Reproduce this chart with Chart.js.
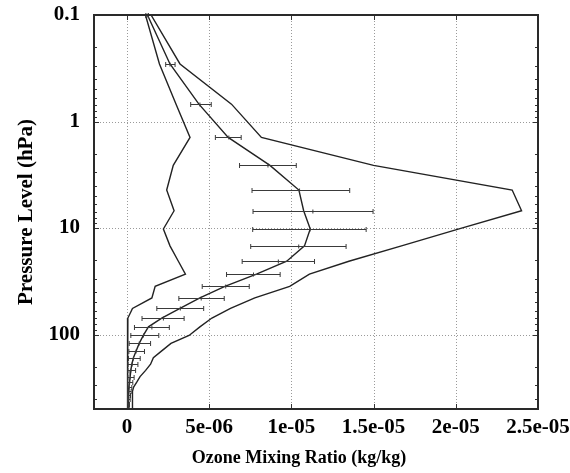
<!DOCTYPE html>
<html>
<head>
<meta charset="utf-8">
<script src="https://cdn.jsdelivr.net/npm/chart.js@4.4.0/dist/chart.umd.min.js"></script>
<style>
html, body { margin: 0; padding: 0; background: #fff; }
</style>
</head>
<body>
<canvas id="chart" width="570" height="473"></canvas>
<script>
// pressure levels (hPa), top of the profile first
var pressureLevels = [0.1, 0.288, 0.687, 1.41, 2.58, 4.40, 6.88, 10.2, 14.7, 20.5, 27.1, 35.3, 45.3, 56.8, 70.0, 84.7,
    102, 121, 143, 165, 190, 217, 248, 280, 311, 342, 373, 407, 444, 476, 500];

// ozone mixing ratio (kg/kg) - three profiles
var minOzone = [1.13e-6, 1.98e-6, 2.99e-6, 3.84e-6, 2.82e-6, 2.42e-6, 2.87e-6, 2.22e-6, 2.62e-6, 3.13e-6, 3.56e-6,
    1.72e-6, 1.52e-6, 0.34e-6, 0.06e-6, 0.04e-6, 0.04e-6, 0.04e-6, 0.04e-6, 0.04e-6, 0.04e-6, 0.04e-6, 0.04e-6,
    0.04e-6, 0.04e-6, 0.04e-6, 0.04e-6, 0.04e-6, 0.04e-6, 0.04e-6, 0.04e-6];
var meanOzone = [1.25e-6, 2.62e-6, 4.38e-6, 6.16e-6, 8.70e-6, 10.46e-6, 10.75e-6, 11.15e-6, 10.80e-6, 9.72e-6, 7.88e-6,
    5.96e-6, 4.44e-6, 3.23e-6, 2.12e-6, 1.31e-6, 1.00e-6, 0.75e-6, 0.56e-6, 0.40e-6, 0.30e-6, 0.24e-6, 0.20e-6,
    0.16e-6, 0.12e-6, 0.10e-6, 0.09e-6, 0.08e-6, 0.08e-6, 0.07e-6, 0.07e-6];
var maxOzone = [1.47e-6, 3.23e-6, 6.36e-6, 8.18e-6, 15.0e-6, 23.43e-6, 24.0e-6, 20.2e-6, 16.7e-6, 13.5e-6, 11.1e-6,
    9.9e-6, 7.78e-6, 6.3e-6, 5.17e-6, 4.44e-6, 3.78e-6, 2.68e-6, 2.10e-6, 1.61e-6, 1.44e-6, 1.14e-6, 0.80e-6,
    0.60e-6, 0.41e-6, 0.34e-6, 0.34e-6, 0.34e-6, 0.34e-6, 0.34e-6, 0.34e-6];

// observations with x error bars (same levels, first 30)
var obsMean = [1.23e-6, 2.62e-6, 4.44e-6, 6.20e-6, 8.58e-6, 10.50e-6, 11.31e-6, 11.14e-6, 10.45e-6, 9.21e-6, 7.70e-6,
    6.01e-6, 4.52e-6, 3.25e-6, 2.22e-6, 1.52e-6, 1.01e-6, 0.75e-6, 0.56e-6, 0.40e-6, 0.32e-6, 0.24e-6, 0.20e-6,
    0.17e-6, 0.14e-6, 0.12e-6, 0.11e-6, 0.10e-6, 0.09e-6, 0.085e-6];
var obsLow = [1.15e-6, 2.36e-6, 3.88e-6, 5.38e-6, 6.85e-6, 7.61e-6, 7.67e-6, 7.65e-6, 7.53e-6, 7.01e-6, 6.06e-6,
    4.58e-6, 3.16e-6, 1.82e-6, 0.92e-6, 0.46e-6, 0.24e-6, 0.14e-6, 0.12e-6, 0.10e-6, 0.07e-6, 0.06e-6, 0.06e-6,
    0.05e-6, 0.05e-6, 0.05e-6, 0.04e-6, 0.04e-6, 0.04e-6, 0.04e-6];
var obsHigh = [1.31e-6, 2.93e-6, 5.13e-6, 6.95e-6, 10.30e-6, 13.55e-6, 14.97e-6, 14.55e-6, 13.33e-6, 11.41e-6, 9.32e-6,
    7.44e-6, 5.92e-6, 4.67e-6, 3.48e-6, 2.58e-6, 1.94e-6, 1.44e-6, 1.07e-6, 0.81e-6, 0.67e-6, 0.53e-6, 0.44e-6,
    0.36e-6, 0.30e-6, 0.26e-6, 0.22e-6, 0.20e-6, 0.16e-6, 0.14e-6];

// axis ticks
var xTickValues = [0, 5e-6, 1e-5, 1.5e-5, 2e-5, 2.5e-5];
var xTickLabels = ['0', '5e-06', '1e-05', '1.5e-05', '2e-05', '2.5e-05'];
var yTickValues = [0.1, 1, 10, 100];
var yTickLabels = ['0.1', '1', '10', '100'];

var FONT = '"Liberation Serif", "Times New Roman", serif';

function profile(xs) {
    return xs.map(function (v, i) { return {x: v, y: pressureLevels[i]}; });
}

function lineSet(xs) {
    return {
        data: profile(xs),
        showLine: true,
        borderColor: '#222',
        borderWidth: 1.4,
        pointRadius: 0,
        tension: 0,
        fill: false
    };
}

var gnuFrame = {
    id: 'gnuFrame',
    beforeDatasetsDraw: function (chart) {
        var ctx = chart.ctx, a = chart.chartArea, x = chart.scales.x, y = chart.scales.y;
        ctx.save();
        ctx.strokeStyle = '#9a9a9a';
        ctx.lineWidth = 1;
        ctx.setLineDash([1, 2]);
        ctx.beginPath();
        xTickValues.forEach(function (v) {
            var px = Math.round(x.getPixelForValue(v)) + 0.5;
            if (px > a.right - 2) return;
            ctx.moveTo(px, a.top); ctx.lineTo(px, a.bottom);
        });
        yTickValues.forEach(function (v) {
            var py = Math.round(y.getPixelForValue(v)) + 0.5;
            if (py < a.top + 2) return;
            ctx.moveTo(a.left, py); ctx.lineTo(a.right, py);
        });
        ctx.stroke();
        ctx.restore();
    },
    afterDatasetsDraw: function (chart) {
        var ctx = chart.ctx, a = chart.chartArea, x = chart.scales.x, y = chart.scales.y;
        ctx.save();
        // error bars
        ctx.strokeStyle = '#3a3a3a';
        ctx.lineWidth = 1;
        ctx.beginPath();
        for (var i = 0; i < obsMean.length; i++) {
            var py = Math.round(y.getPixelForValue(pressureLevels[i])) + 0.5;
            var lo = x.getPixelForValue(obsLow[i]);
            var hi = x.getPixelForValue(obsHigh[i]);
            var c = x.getPixelForValue(obsMean[i]);
            ctx.moveTo(lo, py); ctx.lineTo(hi, py);
            ctx.moveTo(lo, py - 2.5); ctx.lineTo(lo, py + 2.5);
            ctx.moveTo(hi, py - 2.5); ctx.lineTo(hi, py + 2.5);
            ctx.moveTo(c, py - 2); ctx.lineTo(c, py + 2);
        }
        ctx.stroke();

        // inward tick marks
        ctx.strokeStyle = '#333';
        ctx.lineWidth = 1;
        ctx.beginPath();
        xTickValues.forEach(function (v) {
            var px = Math.round(x.getPixelForValue(v)) + 0.5;
            ctx.moveTo(px, a.bottom); ctx.lineTo(px, a.bottom - 5);
            ctx.moveTo(px, a.top); ctx.lineTo(px, a.top + 5);
        });
        for (var d = 0.1; d < 1000; d *= 10) {
            for (var k = 1; k < 10; k++) {
                var p = k * d;
                if (p > y.max + 1e-9) break;
                var yy = Math.round(y.getPixelForValue(p)) + 0.5;
                var len = k === 1 ? 5 : 3;
                ctx.moveTo(a.left, yy); ctx.lineTo(a.left + len, yy);
                ctx.moveTo(a.right, yy); ctx.lineTo(a.right - len, yy);
            }
        }
        ctx.stroke();

        // border
        ctx.strokeStyle = '#2a2a2a';
        ctx.lineWidth = 2;
        ctx.strokeRect(a.left, a.top, a.right - a.left, a.bottom - a.top);

        // axis titles
        ctx.fillStyle = '#000';
        ctx.font = 'bold 18px ' + FONT;
        ctx.textAlign = 'center';
        ctx.textBaseline = 'alphabetic';
        ctx.fillText('Ozone Mixing Ratio (kg/kg)', 299, 463);
        ctx.font = 'bold 21px ' + FONT;
        ctx.translate(32, (a.top + a.bottom) / 2);
        ctx.rotate(-Math.PI / 2);
        ctx.fillText('Pressure Level (hPa)', 0, 0);
        ctx.restore();
    }
};

new Chart(document.getElementById('chart').getContext('2d'), {
    type: 'scatter',
    data: {
        datasets: [lineSet(minOzone), lineSet(meanOzone), lineSet(maxOzone)]
    },
    options: {
        responsive: false,
        animation: false,
        layout: {padding: {top: 15, right: 32, left: 0, bottom: 0}},
        plugins: {legend: {display: false}, tooltip: {enabled: false}},
        scales: {
            x: {
                type: 'linear',
                min: -2e-6,
                max: 2.5e-5,
                grid: {display: false, drawTicks: false},
                border: {display: false},
                afterBuildTicks: function (s) {
                    s.ticks = xTickValues.map(function (v) { return {value: v}; });
                },
                afterFit: function (s) {
                    s.height = 64;
                    s.paddingLeft = 0;
                    s.paddingRight = 0;
                },
                ticks: {
                    autoSkip: false,
                    maxRotation: 0,
                    padding: 6,
                    color: '#000',
                    font: {family: FONT, size: 21, weight: 'bold'},
                    callback: function (v, i) { return xTickLabels[i]; }
                }
            },
            y: {
                type: 'logarithmic',
                reverse: true,
                min: 0.1,
                max: 500,
                grid: {display: false, drawTicks: false},
                border: {display: false},
                afterBuildTicks: function (s) {
                    s.ticks = yTickValues.map(function (v) { return {value: v}; });
                },
                afterFit: function (s) {
                    s.width = 94;
                    s.paddingTop = 0;
                    s.paddingBottom = 0;
                },
                ticks: {
                    autoSkip: false,
                    padding: 14,
                    color: '#000',
                    font: {family: FONT, size: 21, weight: 'bold'},
                    callback: function (v, i) { return yTickLabels[i]; }
                }
            }
        }
    },
    plugins: [gnuFrame]
});
</script>
</body>
</html>
